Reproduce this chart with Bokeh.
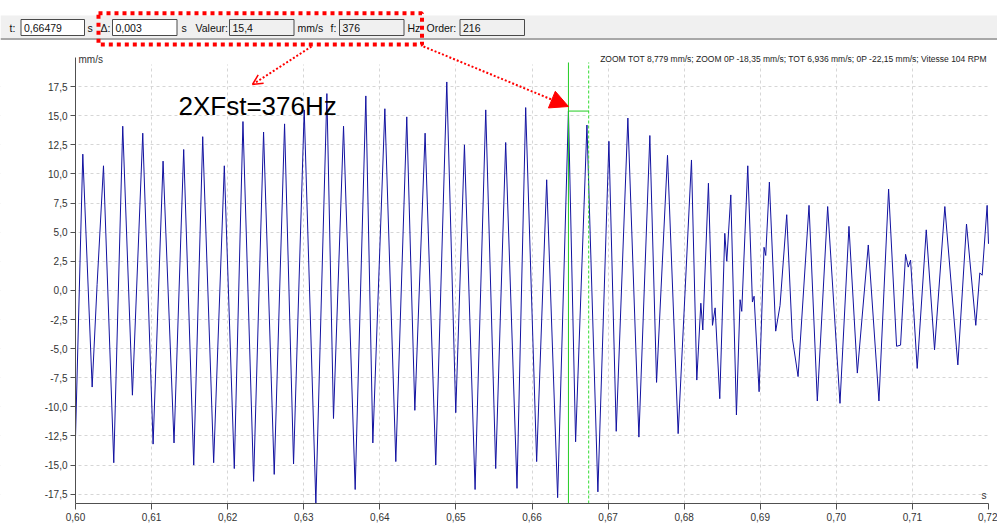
from bokeh.plotting import figure
from bokeh.models import (Range1d, FixedTicker, CustomJSTickFormatter, Label,
                          BoxAnnotation, Arrow, OpenHead, NormalHead)
from bokeh.embed import file_html
from bokeh.resources import INLINE

# ---------------- data ----------------
time_s = [
    0.60000, 0.60096, 0.60219, 0.60284, 0.60368, 0.60503, 0.60621, 0.60748, 0.60884, 0.61020,
    0.61151, 0.61295, 0.61422, 0.61554, 0.61672, 0.61816, 0.61956, 0.62087, 0.62201, 0.62341,
    0.62472, 0.62612, 0.62748, 0.62866, 0.63006, 0.63159, 0.63304, 0.63391, 0.63523, 0.63676,
    0.63816, 0.63908, 0.64066, 0.64210, 0.64354, 0.64460, 0.64595, 0.64735, 0.64880, 0.64998,
    0.65112, 0.65252, 0.65392, 0.65523, 0.65654, 0.65803, 0.65917, 0.66061, 0.66193, 0.66337,
    0.66479, 0.66573, 0.66722, 0.66866, 0.67011, 0.67107, 0.67260, 0.67405, 0.67549, 0.67637,
    0.67781, 0.67921, 0.68096, 0.68166, 0.68219, 0.68245, 0.68319, 0.68372, 0.68407, 0.68468,
    0.68534, 0.68560, 0.68613, 0.68687, 0.68735, 0.68757, 0.68836, 0.68897, 0.68919, 0.68985,
    0.69050, 0.69072, 0.69120, 0.69203, 0.69260, 0.69348, 0.69422, 0.69497, 0.69641, 0.69750,
    0.69886, 0.70048, 0.70166, 0.70276, 0.70420, 0.70560, 0.70687, 0.70792, 0.70844, 0.70910,
    0.70945, 0.70976, 0.71063, 0.71182, 0.71291, 0.71426, 0.71597, 0.71711, 0.71833, 0.71886,
    0.71917, 0.71982, 0.72000,
]
velocity_mm_s = [
    -12.6, 11.7, -8.3, 0.5, 10.7, -14.8, 14.1, -9.0, 13.5, -13.2,
    11.1, -13.1, 12.1, -15.0, 13.2, -14.8, 10.7, -15.3, 14.5, -16.4,
    13.6, -15.8, 14.3, -14.9, 15.5, -18.3, 16.9, -11.0, 14.1, -17.1,
    16.7, -13.1, 15.6, -14.7, 14.9, -10.3, 13.5, -15.0, 17.9, -10.5,
    12.5, -17.1, 15.5, -15.3, 12.7, -17.0, 15.7, -14.7, 9.5, -17.8,
    15.4, -13.0, 14.2, -17.3, 12.8, -12.1, 14.8, -12.6, 13.3, -7.9,
    11.6, -12.3, 11.2, -7.7, -1.1, -3.4, 9.2, -3.0, -1.5, -9.3,
    4.9, 2.5, 8.2, -10.7, -0.8, -1.8, 10.7, -1.0, -0.5, -8.7,
    3.7, 3.0, 9.3, -3.5, -1.3, 6.5, -4.1, -7.4, 7.3, -9.5,
    7.2, -9.7, 5.5, -7.1, 3.9, -9.5, 8.7, -4.8, -4.7, 3.1,
    2.0, 2.6, -6.7, 5.2, -5.1, 7.2, -6.4, 5.7, -3.0, 1.5,
    1.3, 7.3, 4.0,
]

x_ticks = [0.60, 0.61, 0.62, 0.63, 0.64, 0.65, 0.66, 0.67, 0.68, 0.69, 0.70, 0.71, 0.72]
y_ticks = [-17.5, -15.0, -12.5, -10.0, -7.5, -5.0, -2.5, 0.0, 2.5, 5.0, 7.5, 10.0, 12.5, 15.0, 17.5]

cursor_t = 0.66479
cursor_t2 = 0.66745
cursor_delta = "0,003"
cursor_value = 15.4
cursor_freq = 376
cursor_order = 216
stats_text = "ZOOM TOT 8,779 mm/s; ZOOM 0P -18,35 mm/s; TOT 6,936 mm/s; 0P -22,15 mm/s; Vitesse 104 RPM"
note_text = "2XFst=376Hz"

# ---------------- layout helpers (canvas pixel -> data) ----------------
W, H = 997, 527
FL, FR, FT, FB = 75, 988, 57, 503      # plot area edges in canvas pixels
X0, X1 = 0.60, 0.72
Y0, Y1 = -18.3, 20.0
KX = (X1 - X0) / (FR - FL)
KY = (Y1 - Y0) / (FB - FT)


def px(xp):
    return X0 + (xp - FL) * KX


def py(yp):
    return Y1 - (yp - FT) * KY


UI_FONT = "Liberation Sans"

p = figure(width=W, height=H, x_range=Range1d(px(0), px(W)), y_range=Range1d(py(H), py(0)),
           output_backend="svg", toolbar_location=None,
           min_border_left=0, min_border_right=0, min_border_top=0, min_border_bottom=0,
           outline_line_color=None, background_fill_color="white", border_fill_color="white")

# axes (fixed at the plot-area edges, bounded to the plot area)
for ax in (p.xaxis[0], p.yaxis[0]):
    ax.axis_line_color = "#505050"
    ax.major_tick_line_color = "#505050"
    ax.minor_tick_line_color = None
    ax.major_tick_in = 0
    ax.major_label_text_font = UI_FONT
    ax.major_label_text_font_size = "10px"
    ax.major_label_text_color = "#333333"
    ax.major_label_standoff = 3
p.xaxis.major_tick_out = 6
p.yaxis.major_tick_out = 5
p.xaxis.fixed_location = Y0
p.yaxis.fixed_location = X0
p.xaxis.bounds = (X0, X1)
p.yaxis.bounds = (Y0, Y1)
p.xaxis.ticker = FixedTicker(ticks=x_ticks)
p.yaxis.ticker = FixedTicker(ticks=y_ticks)
p.xaxis.formatter = CustomJSTickFormatter(code="return tick.toFixed(2).replace('.', ',');")
p.yaxis.formatter = CustomJSTickFormatter(code="return tick.toFixed(1).replace('.', ',');")

p.xgrid.ticker = FixedTicker(ticks=x_ticks[1:-1])
p.ygrid.ticker = FixedTicker(ticks=y_ticks)
for g in (p.xgrid[0], p.ygrid[0]):
    g.grid_line_color = "#d6d6d6"
    g.grid_line_dash = "3 3"
    g.grid_line_width = 1

# white masks (underlay) so grid lines stay inside the plot area
for l_, r_, t_, b_ in [(0, W, 0, 64), (0, FL - 0.5, 0, H), (FR + 0.5, W, 0, H), (0, W, FB + 0.5, H)]:
    p.add_layout(BoxAnnotation(left=px(l_), right=px(r_), top=py(t_), bottom=py(b_),
                               fill_color="white", fill_alpha=1, line_color=None, level="underlay"))

# waveform
p.line(time_s, velocity_mm_s, line_color="#1212a0", line_width=1)

# green cursors
top_c = py(62)
p.segment(x0=[cursor_t], y0=[Y0], x1=[cursor_t], y1=[top_c], line_color="#22cc22", line_width=1)
p.segment(x0=[cursor_t2], y0=[Y0], x1=[cursor_t2], y1=[top_c], line_color="#33dd33",
          line_width=1, line_dash="3 2")
p.segment(x0=[cursor_t], y0=[cursor_value], x1=[cursor_t2], y1=[cursor_value],
          line_color="#22cc22", line_width=1)

# axis units
p.add_layout(Label(x=px(78), y=py(58.5), text="mm/s", text_font=UI_FONT, text_font_size="10px",
                   text_color="#333333", text_baseline="middle"))
p.add_layout(Label(x=px(981), y=py(495), text="s", text_font=UI_FONT, text_font_size="10px",
                   text_color="#333333", text_baseline="middle"))

# stats line
p.add_layout(Label(x=px(987), y=py(58), text=stats_text, text_font=UI_FONT, text_font_size="8.5px",
                   text_color="#222222", text_align="right", text_baseline="middle"))

# ---------------- cursor toolbar ----------------
p.add_layout(BoxAnnotation(left=px(0), right=px(W), top=py(15), bottom=py(38),
                           fill_color="#f0f0f0", fill_alpha=1, line_color=None))
p.add_layout(BoxAnnotation(left=px(0), right=px(W), top=py(37.5), bottom=py(39.5),
                           fill_color="#a8a8a8", fill_alpha=1, line_color=None))

fields = [
    ("t:", 9, 20.5, 84, f"{cursor_t:.5f}".replace(".", ","), "white", "s", 87),
    ("\u0394:", 100, 112, 176.5, cursor_delta, "white", "s", 181),
    ("Valeur:", 195, 229, 293.5, f"{cursor_value:.1f}".replace(".", ","), "#f0f0f0", "mm/s", 297),
    ("f:", 330, 339, 403.5, str(cursor_freq), "#f0f0f0", "Hz", 407),
    ("Order:", 426, 459.5, 524, str(cursor_order), "#f0f0f0", "", 0),
]
for lab, lx, b0, b1, val, fill, unit, ux in fields:
    p.add_layout(Label(x=px(lx), y=py(27), text=lab, text_font=UI_FONT, text_font_size="10.5px",
                       text_color="#111111", text_baseline="middle"))
    p.add_layout(BoxAnnotation(left=px(b0), right=px(b1), top=py(19), bottom=py(35),
                               fill_color=fill, fill_alpha=1, line_color="#4a4a4a",
                               line_alpha=1, line_width=1))
    p.add_layout(Label(x=px(b0 + 3), y=py(27), text=val, text_font=UI_FONT, text_font_size="10.5px",
                       text_color="#111111", text_baseline="middle"))
    if unit:
        p.add_layout(Label(x=px(ux), y=py(27), text=unit, text_font=UI_FONT, text_font_size="10.5px",
                           text_color="#111111", text_baseline="middle"))

# red dotted highlight box
p.add_layout(BoxAnnotation(left=px(98), right=px(421.5), top=py(12.7), bottom=py(44),
                           fill_alpha=0, line_color="#ff0000", line_alpha=1,
                           line_width=4, line_dash="4 4"))

# arrows
p.add_layout(Arrow(end=OpenHead(size=10, line_color="#ff0000", line_width=1.5),
                   x_start=px(311), y_start=py(46), x_end=px(252), y_end=py(84),
                   line_color="#ff0000", line_width=2, line_dash="2 2"))
p.add_layout(Arrow(end=NormalHead(size=18, fill_color="#ff0000", line_color="#ff0000"),
                   x_start=px(423), y_start=py(46), x_end=px(568), y_end=py(106),
                   line_color="#ff0000", line_width=2, line_dash="2 2"))

# annotation text
p.add_layout(Label(x=px(178), y=py(105), text=note_text, text_font=UI_FONT, text_font_size="26px",
                   text_color="#000000", text_baseline="alphabetic"))

open("out.html", "w").write(file_html(p, INLINE))
